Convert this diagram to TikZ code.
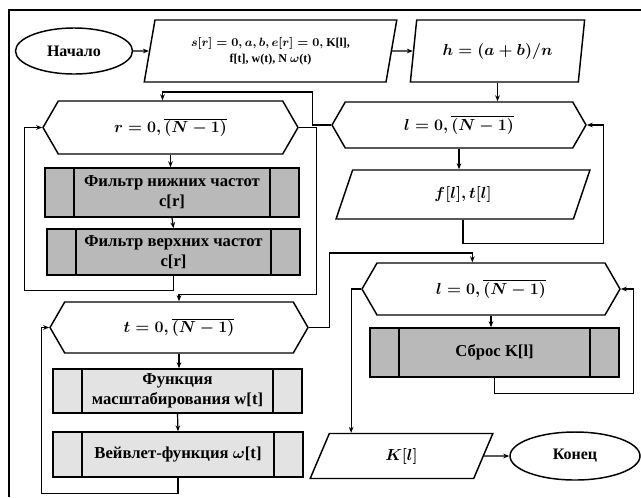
\documentclass[tikz,border=0pt]{standalone}
\usepackage{fontspec}
\setmainfont{Liberation Serif}
\usetikzlibrary{arrows.meta, shapes.geometric, shapes.symbols, positioning, calc}

\begin{document}
\begin{tikzpicture}[x=0.75pt, y=-0.75pt,
    line width=0.9pt,
    arr/.style={-{Stealth[length=4.5pt,width=3.5pt]}},
    term/.style={ellipse, draw, line width=1.1pt, inner sep=0pt,
      font=\fontsize{12}{14}\selectfont\bfseries},
    datab/.style={trapezium, trapezium left angle=75, trapezium right angle=105,
      trapezium stretches=true, draw, line width=1.1pt, inner sep=0pt, align=center,
      font=\fontsize{13}{15}\selectfont\boldmath},
    hexa/.style={signal, signal to=east and west, signal pointer angle=120,
      draw, line width=1.1pt, inner sep=0pt,
      font=\fontsize{12}{14}\selectfont\boldmath},
    proc/.style={rectangle, draw, line width=1.1pt, fill=gray!55, inner sep=0pt,
      align=center, font=\fontsize{12.5}{15}\selectfont\bfseries\boldmath,
      path picture={
        \draw[line width=1.6pt] ([xshift=22pt]path picture bounding box.south west)
          -- ([xshift=22pt]path picture bounding box.north west);
        \draw[line width=1.6pt] ([xshift=-22pt]path picture bounding box.south east)
          -- ([xshift=-22pt]path picture bounding box.north east);}},
    procl/.style={proc, fill=gray!22}]
  \useasboundingbox (0,0) rectangle (641,497);

  % frame of the scanned page
  \draw[line width=1pt] (9,497) -- (9,10) -- (641,10);

  % top row
  \node[term, minimum width=87.75pt, minimum height=34.5pt] (start) at (74,51) {Начало};
  \node[datab, minimum width=189.75pt, minimum height=46.5pt,
    font=\fontsize{9}{12}\selectfont\bfseries\boldmath] (inp) at (270.5,51)
    {$s[r]=0, a, b, e[r]=0,$ K[l],\\ f[t], w(t), N $\omega$(t)};
  \node[datab, minimum width=131.25pt, minimum height=46.5pt] (hcalc) at (497.5,51)
    {$h=(a+b)/n$};

  % loops over r and l
  \node[hexa, minimum width=191.25pt, minimum height=39.75pt] (loopr) at (170.5,127.5)
    {$r=0,\overline{(N-1)}$};
  \node[hexa, minimum width=190.5pt, minimum height=34.5pt] (loopl) at (459,125)
    {$l=0,\overline{(N-1)}$};
  \node[proc, minimum width=190.5pt, minimum height=36.75pt] (flow) at (172,192.5)
    {Фильтр нижних частот\\ c[r]};
  \node[proc, minimum width=189.75pt, minimum height=34.5pt] (fhigh) at (173.5,252)
    {Фильтр верхних частот\\ c[r]};
  \node[datab, minimum width=190.5pt, minimum height=36.75pt] (fout) at (463,194.5)
    {$f[l], t[l]$};

  % loops over t and l
  \node[hexa, minimum width=193.5pt, minimum height=38.25pt] (loopt) at (179,327.5)
    {$t=0,\overline{(N-1)}$};
  \node[procl, minimum width=186.75pt, minimum height=33pt] (scale) at (177.5,391)
    {Функция\\ масштабирования w[t]};
  \node[procl, minimum width=187.5pt, minimum height=33.75pt] (wave) at (178,454.5)
    {Вейвлет-функция $\omega$[t]};
  \node[hexa, minimum width=193.5pt, minimum height=39pt] (loopk) at (491,289)
    {$l=0,\overline{(N-1)}$};
  \node[proc, minimum width=186.75pt, minimum height=36.75pt] (reset) at (494.5,352.5)
    {Сброс K[l]};
  \node[datab, minimum width=137.25pt, minimum height=33.75pt] (kout) at (401.5,456)
    {$K[l]$};
  \node[term, minimum width=97.5pt, minimum height=36pt] (stop) at (575,456) {Конец};

  % connectors
  \draw[arr] (start) -- (inp);
  \draw[arr] (inp) -- (hcalc);
  \draw[arr] (hcalc.south) -- (hcalc.south |- loopl.north);
  \draw[arr] (loopl.south) -- (loopl.south |- fout.north);
  \draw[arr] (fout.south) -- ++(0,24) -| ($(loopl.east)+(17,0)$) -- (loopl.east);
  \draw[arr] (loopl.west) -- ++(-19,0) -- ++(0,-33) -| ([xshift=-6pt]loopr.north);
  \draw[arr] (loopr.south) -- (loopr.south |- flow.north);
  \draw[arr] (flow.south) -- (fhigh.north);
  \draw[arr] (fhigh.south) -- ++(0,15) -| ($(loopr.west)+(-18,0)$) -- (loopr.west);
  \draw[arr] (loopr.east) -- ++(18,0) |- ([yshift=5pt]loopt.north) -- (loopt.north);
  \draw[arr] (loopt.south) -- (loopt.south |- scale.north);
  \draw[arr] (scale.south) -- (wave.north);
  \draw[arr] (wave.south) -- ++(0,16) -| ($(loopt.west)+(-8,0)$) -- (loopt.west);
  \draw[arr] (loopt.east) -- ++(21,0) |- ([xshift=-14pt,yshift=7pt]loopk.north)
    -- ([xshift=-14pt]loopk.north);
  \draw[arr] (loopk.south) -- (loopk.south |- reset.north);
  \draw[arr] (reset.south) -- ++(0,16) -| ($(loopk.east)+(13,0)$) -- (loopk.east);
  \draw[arr] (loopk.west) -- ++(-10,0) coordinate (kdown) -- (kdown |- kout.north);
  \draw[arr] (kout) -- (stop);
\end{tikzpicture}
\end{document}
